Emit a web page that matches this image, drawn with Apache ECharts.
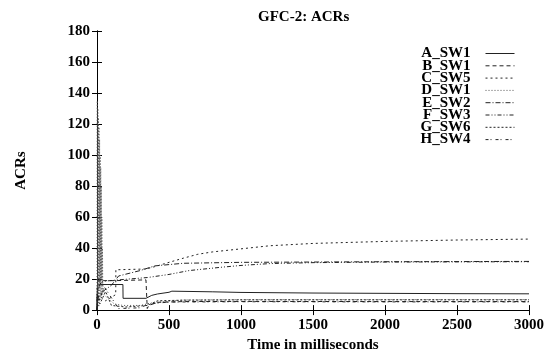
<!DOCTYPE html>
<html>
<head>
<meta charset="utf-8">
<script src="https://cdn.jsdelivr.net/npm/echarts@6/dist/echarts.min.js"></script>
<style>html,body{margin:0;padding:0;background:#fff}#c{width:547px;height:358px}</style>
</head>
<body>
<div id="c"></div>
<script>
var seriesNames = ['A_SW1','B_SW1','C_SW5','D_SW1','E_SW2','F_SW3','G_SW6','H_SW4'];
var xTicks = [0,500,1000,1500,2000,2500,3000];
var yTicks = [0,20,40,60,80,100,120,140,160,180];

var A_t = [0,3,25,180,181,340,380,420,500,520,800,1000,1500,2000,2500,3000];
var A_v = [0,16,16.5,16.5,7.6,7.6,9.5,10.4,11.5,12.2,11.8,11.4,11,10.8,10.6,10.5];

var B_t = [0,4,120,340,348,349,360,420,600,1000,2000,3000];
var B_v = [0,19,19,19.5,19.5,1,3,5,5.5,5.6,5.5,5.5];

var C_t = [0,3,60,130,131,340,400,500,600,700,800,1000,1200,1500,2000,2500,3000];
var C_v = [0,10,6,10,26,26.5,28,30.8,33.5,36,37.5,39.5,41.5,43,44.3,45.2,45.8];

var D_t = [0,2,4,6,8,10,12,14,16,18,20,22,24,26,28,30,32,34,36,38,40,50,70,120,180,300,400,600,1000,2000,3000];
var D_v = [0,135,4,130,10,124,2,118,14,110,6,100,18,92,8,80,20,60,10,40,17,10,8,4,3,3,5,6.5,6.8,6.8,6.8];

var E_t = [0,3,40,100,150,300,400,600,1000,1500,2000,3000];
var E_v = [0,8,12,16,22,25.5,28.5,30.2,30.8,31,31.2,31.4];

var F_t = [0,3,30,150,350,500,640,870,1000,1200,1500,2000,3000];
var F_v = [0,12,18.5,19.5,21,23,25.5,27.7,28.8,30,30.6,31,31.2];

var G_t = [0,2,20,60,100,200,350,420,600,1000,2000,3000];
var G_v = [0,10,4,12,3,2,3,6,6.4,6.6,6.6,6.6];

var H_t = [0,2,15,50,100,150,300,360,500,1000,2000,3000];
var H_v = [0,14,6,15,8,1,1.5,4,5.2,5.4,5.3,5.3];

var times = [A_t,B_t,C_t,D_t,E_t,F_t,G_t,H_t];
var values = [A_v,B_v,C_v,D_v,E_v,F_v,G_v,H_v];
var dashTypes = ['solid',[4,3],[2,3],[1,2],[5,2,1,2],[4,2,1,2,1,2],[2,2],[3,2,1,4]];
var lineColors = ['#222','#222','#222','#555','#222','#222','#222','#222'];

var font = 'Liberation Serif';
function pairs(t, v){ var r=[]; for(var i=0;i<t.length;i++) r.push([t[i],v[i]]); return r; }

var series = seriesNames.map(function(n,i){
  return {
    name:n, type:'line', xAxisIndex:0, yAxisIndex:0,
    data:pairs(times[i],values[i]),
    symbol:'none', showSymbol:false, animation:false,
    lineStyle:{color:lineColors[i], width:1, type:dashTypes[i]},
    itemStyle:{color:lineColors[i]}
  };
});

var axisLbl = {fontFamily:font, fontWeight:'bold', fontSize:15, color:'#000'};
var chart = echarts.init(document.getElementById('c'), null, {renderer:'canvas'});
chart.setOption({
  animation:false,
  backgroundColor:'#fff',
  title:{text:'GFC-2: ACRs', left:253, top:5, textStyle:{fontFamily:font, fontWeight:'bold', fontSize:15, color:'#000'}},
  grid:{left:97, right:17, top:31, bottom:46, containLabel:false},
  legend:{
    orient:'vertical', right:32, top:46, align:'right', padding:0,
    itemWidth:29, itemHeight:8, itemGap:-2.7,
    data:seriesNames.map(function(n){return {name:n};}),
    itemStyle:{opacity:0},
    lineStyle:{width:1},
    textStyle:{fontFamily:font, fontWeight:'bold', fontSize:15, color:'#000', padding:[0,10,0,0]}
  },
  xAxis:[{
    type:'value', min:0, max:3000, interval:500, position:'bottom',
    name:'Time in milliseconds', nameLocation:'middle', nameGap:22,
    nameTextStyle:axisLbl,
    axisLine:{show:true, lineStyle:{color:'#000', width:1}},
    axisTick:{show:true, inside:true, length:5, lineStyle:{color:'#000'}},
    axisLabel:Object.assign({margin:8, formatter:function(v){return xTicks.indexOf(v)>=0?String(v):'';}}, axisLbl),
    splitLine:{show:false}
  },{
    type:'value', min:0, max:3000, interval:500, position:'top',
    axisLine:{show:true, lineStyle:{color:'#000', width:1}},
    axisTick:{show:true, inside:true, length:5, lineStyle:{color:'#000'}},
    axisLabel:{show:false}, splitLine:{show:false}
  }],
  yAxis:[{
    type:'value', min:0, max:180, interval:20, position:'left',
    name:'ACRs', nameLocation:'middle', nameGap:68, nameRotate:90,
    nameTextStyle:axisLbl,
    axisLine:{show:true, lineStyle:{color:'#000', width:1}},
    axisTick:{show:true, inside:true, length:5, lineStyle:{color:'#000'}},
    axisLabel:Object.assign({margin:7, formatter:function(v){return yTicks.indexOf(v)>=0?String(v):'';}}, axisLbl),
    splitLine:{show:false}
  },{
    type:'value', min:0, max:180, interval:20, position:'right',
    axisLine:{show:true, lineStyle:{color:'#000', width:1}},
    axisTick:{show:true, inside:true, length:5, lineStyle:{color:'#000'}},
    axisLabel:{show:false}, splitLine:{show:false}
  }],
  series:series
});
</script>
</body>
</html>
